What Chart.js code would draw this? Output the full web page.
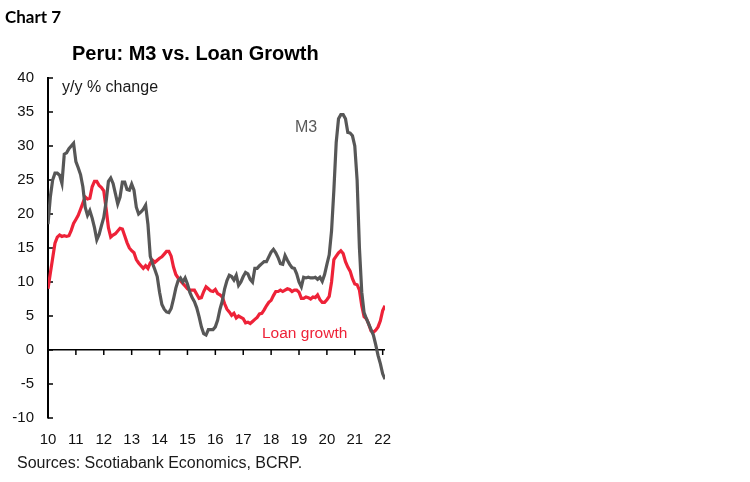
<!DOCTYPE html>
<html>
<head>
<meta charset="utf-8">
<script src="https://cdn.jsdelivr.net/npm/chart.js@4.4.0/dist/chart.umd.min.js"></script>
<style>
    body { margin: 0; background: #fff; width: 750px; height: 482px; overflow: hidden; position: relative; font-family: "Liberation Sans", Arial, sans-serif; }
    .txt { position: absolute; white-space: nowrap; line-height: 1; }
</style>
</head>
<body>
<canvas id="chart-m3" width="750" height="482" style="position:absolute; left:0; top:0;"></canvas>
<div class="txt" style="left:5px; top:6px; font: bold 17px Lato, sans-serif; color:#000;">Chart 7</div>
<div class="txt" style="left:72px; top:43px; font-weight:bold; font-size:20px; color:#000;">Peru: M3 vs. Loan Growth</div>
<div class="txt" style="left:62px; top:78.5px; font-size:16px; color:#1a1a1a;">y/y % change</div>
<div class="txt" style="left:295px; top:118.5px; font-size:16px; color:#595959;">M3</div>
<div class="txt" style="left:262px; top:325px; font-size:15.5px; color:#ee2238;">Loan growth</div>
<div class="txt" style="left:17px; top:454.5px; font-size:16px; color:#1a1a1a;">Sources: Scotiabank Economics, BCRP.</div>
<script>
// monthly, Jan 2010 .. Feb 2022 (index 0 = Jan 2010)
const yearTicks = [0, 12, 24, 36, 48, 60, 72, 84, 96, 108, 120, 132, 144];
const yearLabels = ['10', '11', '12', '13', '14', '15', '16', '17', '18', '19', '20', '21', '22'];

const m3Growth = [
    18.5, 22.5, 25, 26, 26, 25.7, 24.5, 28.8, 29, 29.6, 30, 30.4,
    27.7, 26.8, 25.8, 24, 21, 19.8, 20.5, 19.4, 18, 16.2, 17, 18.3,
    19.5, 21.8, 24.8, 25.3, 24.5, 23, 21.5, 22.5, 24.7, 24.7, 23.6, 23.5,
    24.4, 23.5, 21, 20, 20.3, 20.7, 21.3, 18.5, 13.8, 12.7, 11.8, 10.8,
    8.5, 6.7, 6, 5.6, 5.5, 6.1, 7.5, 9.1, 10.2, 10.6, 10, 10.6,
    9.7, 8.5, 7.7, 7.1, 6.2, 4.9, 3.4, 2.4, 2.2, 3, 3, 3,
    3.4, 4.4, 6, 7.2, 9, 10.2, 11, 10.8, 10.3, 11, 9.5, 10,
    10.8, 11.4, 11.2, 10.4, 10, 12, 12, 12.4, 12.7, 13, 13, 13.7,
    14.4, 14.8, 14.3, 13.6, 12.7, 12.6, 13.9, 13.2, 12.6, 12.1, 12, 11.2,
    10, 9.3, 10.7, 10.6, 10.7, 10.6, 10.6, 10.7, 10.4, 10.7, 10.1, 11.1,
    12.6, 14, 17.5, 23.5, 30.5, 34, 34.6, 34.6, 34, 32, 31.9, 31.5,
    30, 25, 15, 8.5, 5.5, 4.6, 3.8, 3, 2.2, 0.8, -0.8, -2,
    -3.5, -4.3
];

const loanGrowth = [
    9, 11.3, 13.5, 15.7, 16.6, 16.9, 16.7, 16.8, 16.7, 16.8, 17.6, 18.6,
    19.2, 19.8, 20.7, 21.6, 22.5, 22.2, 22.3, 24, 24.8, 24.8, 24.2, 23.9,
    23.4, 20.8, 18, 16.6, 16.9, 17.1, 17.5, 17.9, 17.8, 16.8, 15.8, 15,
    14.6, 14.3, 13.3, 12.8, 12.4, 12, 12.4, 12, 12.8, 13.2, 12.9, 13.2,
    13.5, 13.7, 14.1, 14.5, 14.5, 13.8, 12.2, 11.1, 10.6, 10.2, 9.8, 9.4,
    9, 8.8, 8.8, 8.8, 8.2, 7.6, 7.7, 8.6, 9.3, 9, 8.7, 8.6,
    8.9, 8.3, 8.1, 7.8, 6.8, 6, 5.6, 5.1, 5.4, 4.7, 5, 4.8,
    4.6, 4, 4.1, 3.9, 4.2, 4.5, 4.8, 5.3, 5.4, 5.9, 6.5, 7,
    7.3, 8, 8.6, 8.6, 8.8, 8.6, 8.8, 9, 8.9, 8.6, 8.8, 8.8,
    8.5, 7.6, 7.6, 7.8, 7.7, 7.5, 7.8, 7.7, 8.1, 7.4, 7, 7,
    7.4, 7.9, 10, 13.3, 13.8, 14.3, 14.6, 14.2, 13, 12.2, 11.6, 10.5,
    9.7, 9.6, 8.8, 6.5, 4.9, 4.6, 3.8, 2.8, 2.6, 2.9, 3.4, 4.3,
    5.8, 6.5
];

const tickFont = { family: '"Liberation Sans", Arial, sans-serif', size: 15 };

// small tick marks: inside the y axis, below the zero line for years
const axisTicks = {
    id: 'axisTicks',
    beforeDatasetsDraw(chart) {
        const { ctx, scales: { x, y } } = chart;
        ctx.save();
        ctx.strokeStyle = '#000';
        ctx.lineWidth = 1.5;
        const y0 = y.getPixelForValue(0);
        x.ticks.forEach(t => {
            const px = x.getPixelForValue(t.value);
            ctx.beginPath();
            ctx.moveTo(px, y0);
            ctx.lineTo(px, y0 + 5);
            ctx.stroke();
        });
        y.ticks.forEach(t => {
            const py = y.getPixelForValue(t.value);
            ctx.beginPath();
            ctx.moveTo(x.left, py);
            ctx.lineTo(x.left + 5, py);
            ctx.stroke();
        });
        ctx.restore();
    }
};

new Chart(document.getElementById('chart-m3'), {
    type: 'line',
    data: {
        datasets: [
            {
                label: 'M3',
                data: m3Growth.map((v, i) => ({ x: i, y: v })),
                borderColor: '#575757',
                borderWidth: 3.2,
                pointRadius: 0,
                tension: 0
            },
            {
                label: 'Loan growth',
                data: loanGrowth.map((v, i) => ({ x: i, y: v })),
                borderColor: '#ee2238',
                borderWidth: 3.2,
                pointRadius: 0,
                tension: 0
            }
        ]
    },
    options: {
        responsive: false,
        animation: false,
        devicePixelRatio: 1,
        layout: { padding: { left: 0, top: 78, right: 365, bottom: 0 } },
        plugins: { legend: { display: false }, tooltip: { enabled: false } },
        scales: {
            x: {
                type: 'linear',
                min: 0,
                max: m3Growth.length - 1,
                afterBuildTicks: scale => { scale.ticks = yearTicks.map(v => ({ value: v })); },
                afterFit: scale => { scale.height = 64; },
                grid: { display: false, drawTicks: false },
                border: { display: false },
                ticks: {
                    autoSkip: false,
                    maxRotation: 0,
                    padding: 13,
                    color: '#111',
                    font: tickFont,
                    callback: v => yearLabels[yearTicks.indexOf(v)]
                }
            },
            y: {
                min: -10,
                max: 40,
                afterFit: scale => { scale.width = 48; },
                grid: {
                    drawTicks: false,
                    color: ctx => ctx.tick && ctx.tick.value === 0 ? '#000' : 'rgba(0,0,0,0)',
                    lineWidth: 1.5
                },
                border: { display: true, color: '#000', width: 2 },
                ticks: {
                    stepSize: 5,
                    padding: 14,
                    color: '#111',
                    font: tickFont
                }
            }
        }
    },
    plugins: [axisTicks]
});
</script>
</body>
</html>
